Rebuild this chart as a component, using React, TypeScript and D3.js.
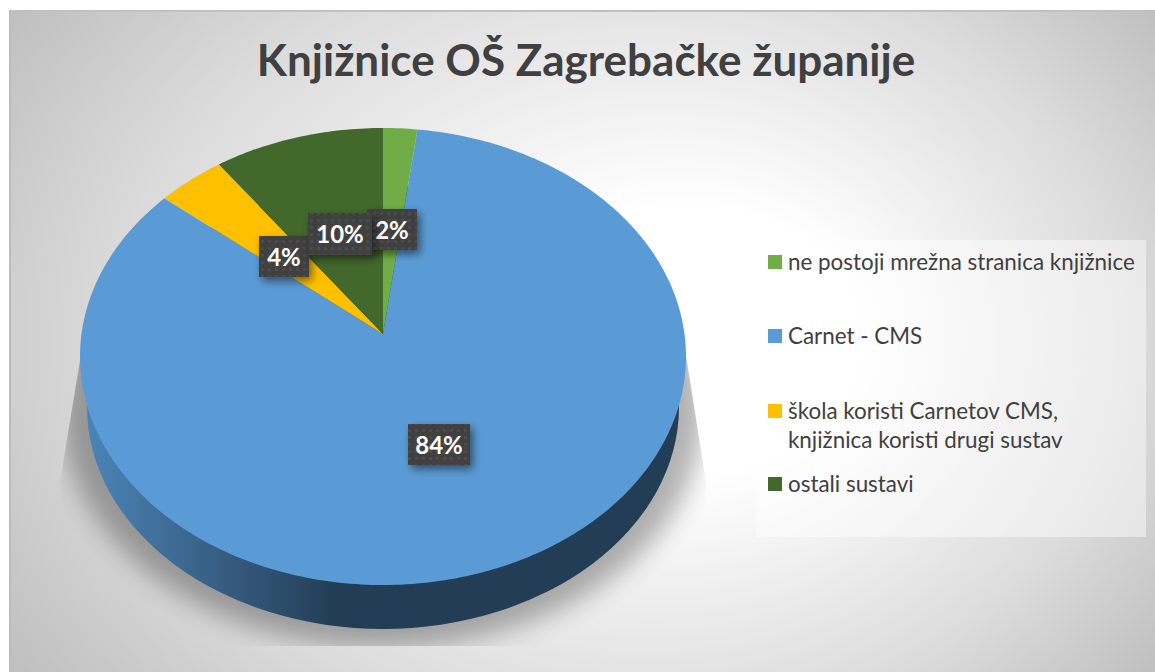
import React, { useMemo } from "react";
import * as d3 from "d3";

const title = "Knjižnice OŠ Zagrebačke županije";
const categories = ["ne postoji mrežna stranica knjižnice", "Carnet - CMS", "škola koristi Carnetov CMS, knjižnica koristi drugi sustav", "ostali sustavi"];
const legendLines = [["ne postoji mrežna stranica knjižnice"], ["Carnet - CMS"], ["škola koristi Carnetov CMS,", "knjižnica koristi drugi sustav"], ["ostali sustavi"]];
const values = [2, 84, 4, 10];
const colors = ["#70ad47", "#5b9bd5", "#ffc000", "#43682b"];
const labelBoxes = [
  { x: 367, y: 209, w: 50, h: 41 },
  { x: 408, y: 424, w: 62, h: 41 },
  { x: 259, y: 236, w: 50, h: 41 },
  { x: 308, y: 213, w: 64, h: 42 },
];
const legendY = [262, 336, 411, 484];

const W = 1155, H = 672;
const cx = 383, cy = 334, rx = 301.5, ry = 226.3, k = 0.0985;
const project = (a: number, r = 1): [number, number] => {
  const u = Math.sin(a) * r, v = -Math.cos(a) * r, w = 1 - k * v;
  return [cx + (rx * u) / w, cy + (ry * v) / w];
};

export default function App() {
  const arcs = useMemo(() => d3.pie<number>().sort(null)(values), []);
  const line = d3.line();
  const slicePath = (s: number, e: number) => {
    const n = Math.max(4, Math.ceil((e - s) * 60));
    const scale = d3.scaleLinear().domain([0, n]).range([s, e]);
    const pts = d3.range(n + 1).map((i) => project(scale(i)));
    return line([[cx, cy], ...pts]) + "Z";
  };
  return (
    <svg width={W} height={H} style={{ position: "absolute", left: 0, top: 0 }}>
      <defs>
        <radialGradient id="bg" gradientUnits="userSpaceOnUse" cx={0} cy={0} r={1} fx={0.19} fy={0}
          gradientTransform="translate(585 340) scale(715 555)">
          <stop offset="0.06" stopColor="#ffffff" />
          <stop offset="0.24" stopColor="#ffffff" />
          <stop offset="0.7" stopColor="#dcdcdc" />
          <stop offset="1" stopColor="#bfbfbf" />
        </radialGradient>
        <linearGradient id="side" gradientUnits="userSpaceOnUse" x1={85} x2={685} y1={0} y2={0}>
          <stop offset="0" stopColor="#4a85b8" />
          <stop offset="0.25" stopColor="#35597c" />
          <stop offset="0.42" stopColor="#223d55" />
          <stop offset="1" stopColor="#223e56" />
        </linearGradient>
        <filter id="blur" x="-20%" y="-20%" width="140%" height="140%">
          <feGaussianBlur stdDeviation="13" />
        </filter>
        <filter id="lblShadow" x="-30%" y="-30%" width="170%" height="170%">
          <feDropShadow dx="3" dy="4" stdDeviation="4" floodColor="#000" floodOpacity="0.5" />
        </filter>
        <clipPath id="shClip">
          <path d="M85,330 L60,482 L60,646 L706,646 L706,482 L682,330 Z" />
        </clipPath>
        <pattern id="dots" patternUnits="userSpaceOnUse" width="7" height="7">
          <rect width="7" height="7" fill="#404040" />
          <rect x="2" y="2" width="3" height="3" fill="#4c4c4c" />
        </pattern>
      </defs>
      <rect x={0} y={0} width={W} height={H} fill="#fff" />
      <rect x={9} y={10} width={W - 9} height={H - 10} fill="url(#bg)" />
      <rect x={9} y={10} width={W - 9} height={2} fill="#c0c0c0" />
      <rect x={9} y={10} width={2} height={H - 10} fill="#bcbcbc" />
      <text x={586} y={76} textAnchor="middle" fontFamily="Lato, 'Open Sans', sans-serif" fontWeight={700} fontSize={44} fill="#404040">{title}</text>
      <g clipPath="url(#shClip)">
        <ellipse cx={383} cy={411} rx={321} ry={236} fill="#000" opacity={0.3} filter="url(#blur)" />
      </g>
      <ellipse cx={383} cy={407} rx={296} ry={222} fill="url(#side)" />
      {arcs.map((a, i) => (
        <path key={i} d={slicePath(a.startAngle, a.endAngle)} fill={colors[i]} />
      ))}
      {arcs.map((a, i) => {
        const b = labelBoxes[i];
        return (
          <g key={"l" + i}>
            <rect x={b.x} y={b.y} width={b.w} height={b.h} fill="url(#dots)" filter="url(#lblShadow)" />
            <text x={b.x + b.w / 2} y={b.y + b.h / 2 + 9} textAnchor="middle" fontFamily="Lato, sans-serif" fontWeight={700} fontSize={24} fill="#fff">
              {d3.format(".0f")(a.value) + "%"}
            </text>
          </g>
        );
      })}
      <rect x={756} y={240} width={390} height={297} fill="#fff" opacity={0.45} />
      {categories.map((c, i) => (
        <g key={c}>
          <rect x={768} y={legendY[i] - 7} width={14} height={14} fill={colors[i]} />
          {legendLines[i].map((t, j) => (
            <text key={t} x={788} y={legendY[i] + 8 + j * 29} fontFamily="Lato, sans-serif" fontSize={22.4} fill="#404040">{t}</text>
          ))}
        </g>
      ))}
    </svg>
  );
}
